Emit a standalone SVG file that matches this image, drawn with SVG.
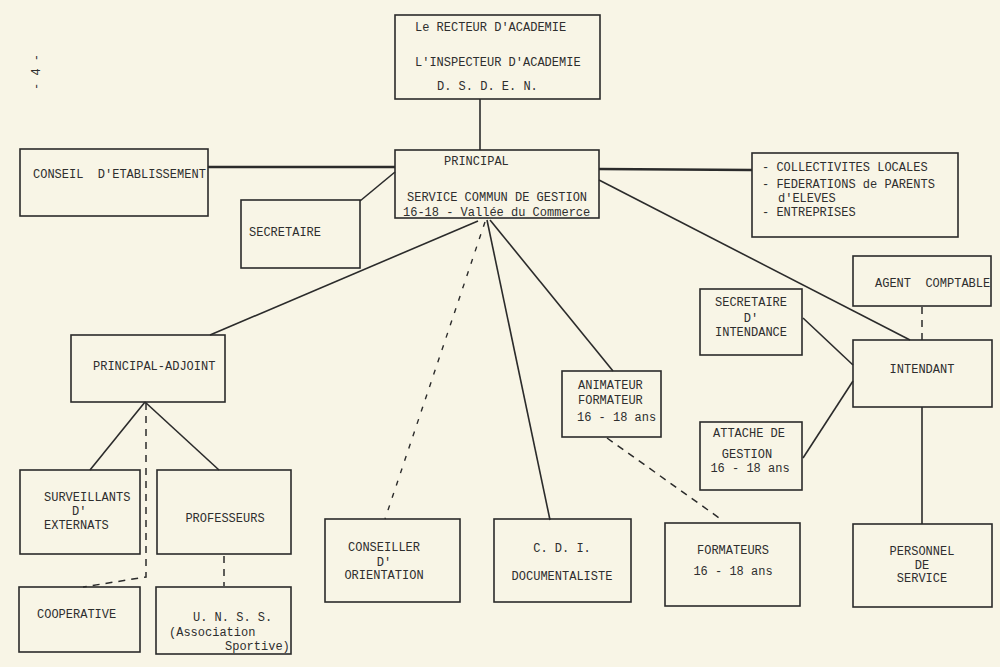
<svg xmlns="http://www.w3.org/2000/svg" width="1000" height="667" viewBox="0 0 1000 667">
<style>
.bg{fill:#f8f5e6}
.box{fill:none;stroke:#2b2b2b;stroke-width:1.6}
.ln{fill:none;stroke:#2b2b2b;stroke-width:1.6}
.thick{stroke-width:2.6}
.dash{fill:none;stroke:#2b2b2b;stroke-width:1.5;stroke-dasharray:7 6}
.dot{fill:none;stroke:#2b2b2b;stroke-width:1.4;stroke-dasharray:5 8}
text{font-family:"Liberation Mono","DejaVu Sans Mono",monospace;font-size:12px;fill:#2e2e2e;white-space:pre}
.m{text-anchor:middle}
</style>
<rect class="bg" x="0" y="0" width="1000" height="667"/>
<text transform="translate(40,72) rotate(-90)" class="m">- 4 -</text>
<g id="connectors">
<line class="ln" x1="480" y1="99" x2="480" y2="150"/>
<line class="ln thick" x1="208" y1="167" x2="395" y2="167"/>
<line class="ln" x1="360" y1="201" x2="395" y2="172"/>
<line class="ln thick" x1="599" y1="169" x2="752" y2="170"/>
<line class="ln" x1="599" y1="180" x2="910" y2="340"/>
<line class="dash" x1="922" y1="307" x2="922" y2="340"/>
<line class="ln" x1="803" y1="318" x2="853" y2="365"/>
<line class="ln" x1="803" y1="458" x2="853" y2="381"/>
<line class="ln" x1="922" y1="407" x2="922" y2="524"/>
<line class="ln" x1="490" y1="220" x2="613" y2="371"/>
<line class="dash" x1="607" y1="438" x2="722" y2="520"/>
<line class="ln" x1="487" y1="220" x2="550" y2="520"/>
<line class="dot" x1="485" y1="222" x2="385" y2="519"/>
<line class="ln" x1="478" y1="221" x2="210" y2="335"/>
<line class="ln" x1="145" y1="402" x2="90" y2="470"/>
<line class="ln" x1="145" y1="402" x2="219" y2="470"/>
<polyline class="dash" points="146,403 146,577 83,587"/>
<line class="dash" x1="224" y1="556" x2="224" y2="586"/>
</g>
<g id="recteur">
<rect class="box" x="395" y="15" width="205" height="84"/>
<text x="415" y="31">Le RECTEUR D'ACADEMIE</text>
<text x="415" y="66">L'INSPECTEUR D'ACADEMIE</text>
<text x="437" y="90">D. S. D. E. N.</text>
</g>
<g id="principal">
<rect class="box" x="395" y="150" width="204" height="68"/>
<text x="444" y="165">PRINCIPAL</text>
<text x="407" y="201">SERVICE COMMUN DE GESTION</text>
<text x="403" y="216">16-18 - Vallée du Commerce</text>
</g>
<g id="conseil">
<rect class="box" x="20" y="149" width="188" height="67"/>
<text x="33" y="178">CONSEIL  D'ETABLISSEMENT</text>
</g>
<g id="secretaire">
<rect class="box" x="241" y="200" width="119" height="68"/>
<text x="249" y="236">SECRETAIRE</text>
</g>
<g id="partenaires">
<rect class="box" x="752" y="153" width="206" height="84"/>
<text x="762" y="171">- COLLECTIVITES LOCALES</text>
<text x="762" y="188">- FEDERATIONS de PARENTS</text>
<text x="778" y="202">d'ELEVES</text>
<text x="762" y="216">- ENTREPRISES</text>
</g>
<g id="agent-comptable">
<rect class="box" x="853" y="256" width="138" height="50"/>
<text x="875" y="287">AGENT  COMPTABLE</text>
</g>
<g id="secretaire-intendance">
<rect class="box" x="700" y="289" width="102" height="66"/>
<text class="m" x="751" y="306">SECRETAIRE</text>
<text class="m" x="751" y="322">D'</text>
<text class="m" x="751" y="336">INTENDANCE</text>
</g>
<g id="intendant">
<rect class="box" x="853" y="340" width="139" height="67"/>
<text class="m" x="922" y="373">INTENDANT</text>
</g>
<g id="attache-gestion">
<rect class="box" x="700" y="422" width="102" height="68"/>
<text class="m" x="749" y="437">ATTACHE DE</text>
<text class="m" x="747" y="458">GESTION</text>
<text class="m" x="750" y="472">16 - 18 ans</text>
</g>
<g id="animateur">
<rect class="box" x="562" y="371" width="99" height="66"/>
<text x="578" y="389">ANIMATEUR</text>
<text x="578" y="404">FORMATEUR</text>
<text x="577" y="421">16 - 18 ans</text>
</g>
<g id="principal-adjoint">
<rect class="box" x="71" y="335" width="154" height="67"/>
<text x="93" y="370">PRINCIPAL-ADJOINT</text>
</g>
<g id="surveillants">
<rect class="box" x="20" y="470" width="120" height="84"/>
<text x="44" y="501">SURVEILLANTS</text>
<text x="72" y="515">D'</text>
<text x="44" y="529">EXTERNATS</text>
</g>
<g id="professeurs">
<rect class="box" x="157" y="470" width="134" height="84"/>
<text class="m" x="225" y="522">PROFESSEURS</text>
</g>
<g id="cooperative">
<rect class="box" x="19" y="587" width="121" height="65"/>
<text x="37" y="618">COOPERATIVE</text>
</g>
<g id="unss">
<rect class="box" x="156" y="587" width="135" height="67"/>
<text x="193" y="621">U. N. S. S.</text>
<text x="169" y="636">(Association</text>
<text x="225" y="650">Sportive)</text>
</g>
<g id="conseiller-orientation">
<rect class="box" x="325" y="519" width="135" height="83"/>
<text class="m" x="384" y="551">CONSEILLER</text>
<text class="m" x="384" y="566">D'</text>
<text class="m" x="384" y="579">ORIENTATION</text>
</g>
<g id="cdi">
<rect class="box" x="494" y="519" width="137" height="83"/>
<text class="m" x="562" y="552">C. D. I.</text>
<text class="m" x="562" y="580">DOCUMENTALISTE</text>
</g>
<g id="formateurs">
<rect class="box" x="665" y="523" width="135" height="83"/>
<text class="m" x="733" y="554">FORMATEURS</text>
<text class="m" x="733" y="575">16 - 18 ans</text>
</g>
<g id="personnel-service">
<rect class="box" x="853" y="524" width="139" height="83"/>
<text class="m" x="922" y="555">PERSONNEL</text>
<text class="m" x="922" y="569">DE</text>
<text class="m" x="922" y="582">SERVICE</text>
</g>
</svg>
